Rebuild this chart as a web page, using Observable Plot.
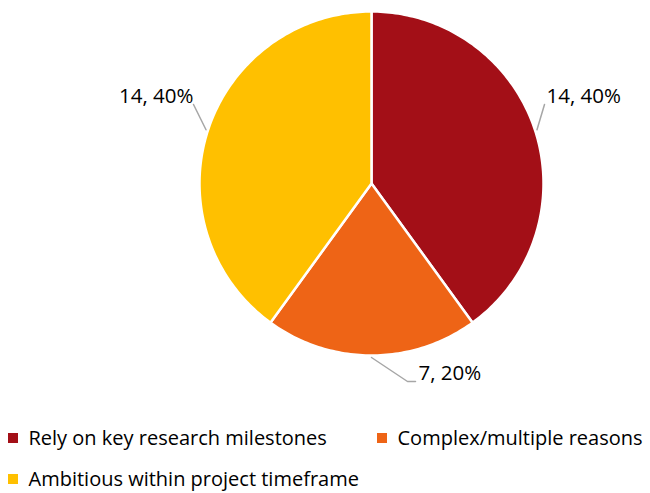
<!DOCTYPE html>
<html>
<head>
<meta charset="utf-8">
<script src="https://cdn.jsdelivr.net/npm/d3@7"></script>
<script src="https://cdn.jsdelivr.net/npm/@observablehq/plot@0.6"></script>
<style>
  html, body { margin: 0; padding: 0; background: #fff; }
  #chart svg { display: block; }
</style>
</head>
<body>
<div id="chart"></div>
<script>
// ---- data ----
const categories = ["Rely on key research milestones", "Complex/multiple reasons", "Ambitious within project timeframe"];
const counts = [14, 7, 14];
const percents = [40, 20, 40];
const labels = ["14, 40%", "7, 20%", "14, 40%"];

// ---- style / layout ----
const palette = ["#A30F17", "#EE6416", "#FFC000"];
const W = 650, H = 493;
const cx = 371, cy = 183, R = 172;
const font = "'Open Sans', 'DejaVu Sans', sans-serif";

const pie = d3.pie().sort(null).value(d => d.value)(categories.map((c, i) => ({cat: c, value: counts[i], i})));

// slice outlines sampled along the arc
const slicePts = [];
pie.forEach(s => {
  const n = Math.max(2, Math.ceil((s.endAngle - s.startAngle) / (Math.PI / 180)));
  slicePts.push({cat: s.data.cat, x: cx, y: cy});
  for (let k = 0; k <= n; k++) {
    const a = s.startAngle + (s.endAngle - s.startAngle) * k / n;
    slicePts.push({cat: s.data.cat, x: cx + R * Math.sin(a), y: cy - R * Math.cos(a)});
  }
});

// label layout (Excel-style callouts)
const labelLayout = [
  {lead: [[544 - cx, 104 - cy]], tx: 546, ty: 96, anchor: "start"},
  {lead: [[407 - cx, 381 - cy], [415 - cx, 381 - cy]], tx: 418, ty: 373, anchor: "start"},
  {lead: [[193 - cx, 104 - cy]], tx: 193, ty: 96, anchor: "end"}
];
const leaderPts = [];
const labelData = [];
pie.forEach((s, i) => {
  const mid = (s.startAngle + s.endAngle) / 2;
  const L = labelLayout[i];
  leaderPts.push({i, x: cx + (R + 2) * Math.sin(mid), y: cy - (R + 2) * Math.cos(mid)});
  L.lead.forEach(p => leaderPts.push({i, x: cx + p[0], y: cy + p[1]}));
  labelData.push({text: labels[i], x: L.tx, y: L.ty, anchor: L.anchor});
});

// legend layout
const legendPos = [
  {x: 8, y: 438}, {x: 377, y: 438}, {x: 8, y: 479}
];
const legendData = categories.map((c, i) => ({cat: c, x: legendPos[i].x, y: legendPos[i].y}));

const chart = Plot.plot({
  width: W,
  height: H,
  margin: 0,
  style: {fontFamily: font, background: "#fff"},
  x: {domain: [0, W], range: [0, W], axis: null},
  y: {domain: [0, H], range: [0, H], axis: null},
  color: {domain: categories, range: palette},
  marks: [
    Plot.line(slicePts, {x: "x", y: "y", z: "cat", fill: "cat", stroke: "#fff", strokeWidth: 2.5, curve: "linear-closed", strokeLinejoin: "round"}),
    Plot.line(leaderPts, {x: "x", y: "y", z: "i", stroke: "#A6A6A6", strokeWidth: 1.5}),
    Plot.text(labelData.filter(d => d.anchor === "start"), {x: "x", y: "y", text: "text", textAnchor: "start", fontSize: 20.5, fill: "#000"}),
    Plot.text(labelData.filter(d => d.anchor === "end"), {x: "x", y: "y", text: "text", textAnchor: "end", fontSize: 20.5, fill: "#000"}),
    Plot.rect(legendData, {x1: d => d.x, x2: d => d.x + 10, y1: d => d.y - 5, y2: d => d.y + 5, fill: "cat"}),
    Plot.text(legendData, {x: d => d.x + 20, y: "y", text: "cat", textAnchor: "start", fontSize: 20, fill: "#000"})
  ]
});
document.getElementById("chart").append(chart);
</script>
</body>
</html>
